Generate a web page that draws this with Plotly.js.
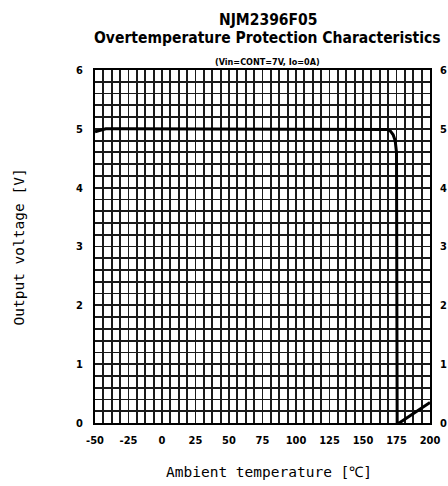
<!DOCTYPE html>
<html>
<head>
<meta charset="utf-8">
<script src="https://cdn.plot.ly/plotly-3.0.1.min.js"></script>
<style>html,body{margin:0;padding:0;background:#fff;}#chart{width:448px;height:486px;}</style>
</head>
<body>
<div id="chart"></div>
<script>
// Data
const temperature = [-50, -46, -42, -30, 0, 50, 100, 150, 165, 168, 170.5, 172.5, 174, 175, 175.5, 177, 200];
const outputVoltage = [4.95, 4.98, 5.0, 5.0, 5.0, 5.0, 5.0, 5.0, 5.0, 4.99, 4.96, 4.9, 4.8, 4.6, 0, 0, 0.35];
const xTicks = [-50, -25, 0, 25, 50, 75, 100, 125, 150, 175, 200];
const yTicks = [0, 1, 2, 3, 4, 5, 6];
const titleLine1 = "NJM2396F05";
const titleLine2 = "Overtemperature Protection Characteristics";
const subtitle = "(Vin=CONT=7V, Io=0A)";
const xTitle = "Ambient temperature [℃]";
const yTitle = "Output voltage [V]";

const tickFont = {family: "Liberation Sans Narrow, DejaVu Sans Condensed", size: 11, color: "#000", weight: "bold"};
const titleFont = {family: "DejaVu Sans Condensed, Liberation Sans Narrow", size: 15.5, color: "#000", weight: "bold"};
const axisTitleFont = {family: "DejaVu Sans Mono", size: 14.5, color: "#000"};
const gridCommon = {
  showgrid: true, gridcolor: "#1a1a1a", gridwidth: 1.8,
  showline: true, linecolor: "#000", linewidth: 2, mirror: true,
  zeroline: false, ticks: "", tickfont: tickFont
};

const traces = [
  {x: temperature, y: outputVoltage, mode: "lines", line: {color: "#000", width: 3}, hoverinfo: "skip", showlegend: false},
  {x: temperature, y: outputVoltage, yaxis: "y2", mode: "lines", line: {color: "rgba(0,0,0,0)", width: 0}, hoverinfo: "skip", showlegend: false}
];

const layout = {
  width: 448, height: 486,
  margin: {l: 95, r: 18, t: 70, b: 63},
  paper_bgcolor: "#fff", plot_bgcolor: "#fff",
  showlegend: false,
  xaxis: Object.assign({}, gridCommon, {
    range: [-50, 200], tickvals: xTicks, ticktext: xTicks.map(String),
    minor: {dtick: 6.25, tick0: -50, showgrid: true, gridcolor: "#1a1a1a", gridwidth: 1.8},
    ticklabelstandoff: 6
  }),
  yaxis: Object.assign({}, gridCommon, {
    range: [0, 6], tickvals: yTicks, ticktext: yTicks.map(String),
    minor: {dtick: 0.2, tick0: 0, showgrid: true, gridcolor: "#1a1a1a", gridwidth: 1.8},
    ticklabelstandoff: 8
  }),
  yaxis2: {
    overlaying: "y", side: "right", range: [0, 6], tickvals: yTicks, ticktext: yTicks.map(String),
    showgrid: false, zeroline: false, showline: false, ticks: "", tickfont: tickFont, ticklabelstandoff: 9
  },
  annotations: [
    {text: titleLine1, xref: "paper", yref: "paper", x: 0.516, y: 1.1416, xanchor: "center", yanchor: "middle", showarrow: false, font: titleFont},
    {text: titleLine2, xref: "paper", yref: "paper", x: 0.516, y: 1.0907, xanchor: "center", yanchor: "middle", showarrow: false, font: titleFont},
    {text: subtitle, xref: "paper", yref: "paper", x: 0.516, y: 1.0227, xanchor: "center", yanchor: "middle", showarrow: false,
     font: {family: "DejaVu Sans Condensed", size: 9, color: "#000", weight: "bold"}},
    {text: xTitle, xref: "paper", yref: "paper", x: 0.52, y: -0.1388, xanchor: "center", yanchor: "middle", showarrow: false, font: axisTitleFont},
    {text: yTitle, xref: "paper", yref: "paper", x: -0.2269, y: 0.5, xanchor: "center", yanchor: "middle", textangle: -90, showarrow: false, font: axisTitleFont}
  ]
};

Plotly.newPlot("chart", traces, layout, {displayModeBar: false, staticPlot: true});
</script>
</body>
</html>
